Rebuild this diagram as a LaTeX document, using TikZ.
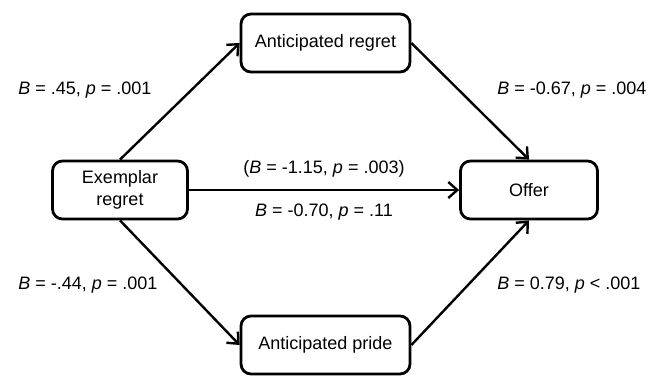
\documentclass[tikz,border=0pt]{standalone}
\usepackage{fontspec}
\setmainfont{Liberation Sans}
\usetikzlibrary{arrows.meta}

\begin{document}
\begin{tikzpicture}[x=0.5pt, y=-0.5pt, font=\fontsize{9}{11}\selectfont]
\tikzset{box/.style={rectangle, draw, rounded corners=5pt, line width=1.4pt, minimum height=29pt, align=center, inner sep=2pt, fill=white}}
\tikzset{arrow/.style={-{Straight Barb[length=4.5pt, width=8pt]}, line width=1.2pt}}
\tikzset{lbl/.style={inner sep=0pt, anchor=west}}

\useasboundingbox (0,0) rectangle (660,377);

\node[box, minimum width=84.5pt] (antregret) at (325.5,43) {Anticipated regret};
\node[box, minimum width=67.5pt] (exemplar) at (120,190) {Exemplar\\regret};
\node[box, minimum width=68.5pt] (offer) at (529,190) {Offer};
\node[box, minimum width=84.5pt] (antpride) at (325.5,345) {Anticipated pride};

\draw[arrow] (exemplar.north) -- (antregret.west);
\draw[arrow] (antregret.east) -- (offer.north);
\draw[arrow] (exemplar.east) -- node[above=2.5pt] (total) {(\textit{B} = -1.15, \textit{p} = .003)} node[below=3pt] (direct) {\textit{B} = -0.70, \textit{p} = .11} (offer.west);
\draw[arrow] (exemplar.south) -- (antpride.west);
\draw[arrow] (antpride.east) -- (offer.south);

\node[lbl] (exregret) at (18,90) {\textit{B} = .45, \textit{p} = .001};
\node[lbl] (regretoffer) at (497,90) {\textit{B} = -0.67, \textit{p} = .004};
\node[lbl] (expride) at (18,285) {\textit{B} = -.44, \textit{p} = .001};
\node[lbl] (prideoffer) at (497,285) {\textit{B} = 0.79, \textit{p} < .001};
\end{tikzpicture}
\end{document}
